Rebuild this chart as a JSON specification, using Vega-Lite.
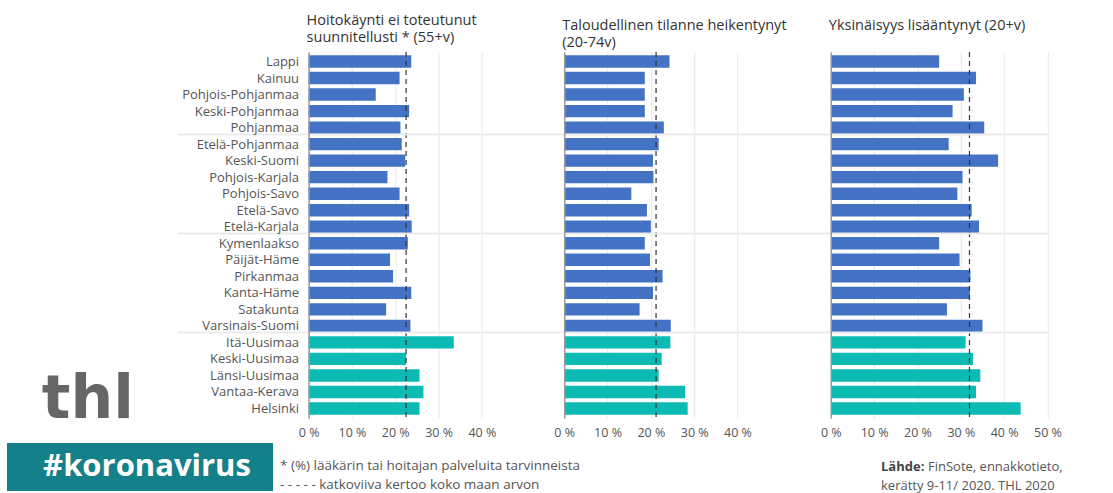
{
  "$schema": "https://vega.github.io/schema/vega-lite/v6.json",
  "padding": {"left": 7, "top": 13, "right": 0, "bottom": 0},
  "autosize": {"type": "pad"},
  "config": {
    "view": {"stroke": null},
    "font": "Open Sans",
    "title": {"anchor": "start", "frame": "group", "fontSize": 14.5, "fontWeight": "normal", "color": "#333333", "lineHeight": 16.5, "offset": 1, "dx": -2, "font": "Open Sans"}
  },
  "datasets": {
    "regions": [
      {"alue": "Lappi", "ryhma": "muu", "hoito": 23.7, "talous": 24.3, "yksin": 25.0},
      {"alue": "Kainuu", "ryhma": "muu", "hoito": 21.0, "talous": 18.6, "yksin": 33.5},
      {"alue": "Pohjois-Pohjanmaa", "ryhma": "muu", "hoito": 15.5, "talous": 18.6, "yksin": 30.7},
      {"alue": "Keski-Pohjanmaa", "ryhma": "muu", "hoito": 23.2, "talous": 18.6, "yksin": 28.1},
      {"alue": "Pohjanmaa", "ryhma": "muu", "hoito": 21.2, "talous": 23.0, "yksin": 35.4},
      {"alue": "Etelä-Pohjanmaa", "ryhma": "muu", "hoito": 21.5, "talous": 21.8, "yksin": 27.2},
      {"alue": "Keski-Suomi", "ryhma": "muu", "hoito": 22.3, "talous": 20.5, "yksin": 38.6},
      {"alue": "Pohjois-Karjala", "ryhma": "muu", "hoito": 18.2, "talous": 20.6, "yksin": 30.4},
      {"alue": "Pohjois-Savo", "ryhma": "muu", "hoito": 21.0, "talous": 15.5, "yksin": 29.2},
      {"alue": "Etelä-Savo", "ryhma": "muu", "hoito": 23.2, "talous": 19.1, "yksin": 32.5},
      {"alue": "Etelä-Karjala", "ryhma": "muu", "hoito": 23.8, "talous": 20.0, "yksin": 34.2},
      {"alue": "Kymenlaakso", "ryhma": "muu", "hoito": 22.9, "talous": 18.6, "yksin": 25.0},
      {"alue": "Päijät-Häme", "ryhma": "muu", "hoito": 18.8, "talous": 19.8, "yksin": 29.7},
      {"alue": "Pirkanmaa", "ryhma": "muu", "hoito": 19.5, "talous": 22.7, "yksin": 32.2},
      {"alue": "Kanta-Häme", "ryhma": "muu", "hoito": 23.7, "talous": 20.5, "yksin": 32.1},
      {"alue": "Satakunta", "ryhma": "muu", "hoito": 17.9, "talous": 17.4, "yksin": 26.8},
      {"alue": "Varsinais-Suomi", "ryhma": "muu", "hoito": 23.5, "talous": 24.6, "yksin": 35.0},
      {"alue": "Itä-Uusimaa", "ryhma": "uusimaa", "hoito": 33.5, "talous": 24.5, "yksin": 31.1},
      {"alue": "Keski-Uusimaa", "ryhma": "uusimaa", "hoito": 22.5, "talous": 22.5, "yksin": 32.8},
      {"alue": "Länsi-Uusimaa", "ryhma": "uusimaa", "hoito": 25.6, "talous": 21.8, "yksin": 34.5},
      {"alue": "Vantaa-Kerava", "ryhma": "uusimaa", "hoito": 26.5, "talous": 27.9, "yksin": 33.5},
      {"alue": "Helsinki", "ryhma": "uusimaa", "hoito": 25.6, "talous": 28.5, "yksin": 43.8}
    ]
  },
  "spacing": 4,
  "vconcat": [
    {
      "spacing": 81.6,
      "bounds": "flush",
      "hconcat": [
        {
          "width": 219.7, "height": 366,
          "data": {"values": [{"t": "thl"}]},
          "mark": {"type": "text", "font": "DejaVu Sans", "fontWeight": "bold", "fontSize": 60, "color": "#666666", "baseline": "alphabetic", "dx": -29},
          "encoding": {
            "text": {"field": "t"},
            "y": {"datum": 0, "type": "quantitative", "scale": {"domain": [0, 1]}, "axis": null}
          }
        },
        {
          "width": 173.3, "height": 366,
          "title": {"text": ["Hoitokäynti ei toteutunut", "suunnitellusti * (55+v)"]},
          "layer": [
            {
              "data": {"name": "regions"},
              "mark": {"type": "bar"},
              "encoding": {
                "y": {"field": "alue", "type": "nominal", "sort": null, "scale": {"paddingInner": 0.25, "paddingOuter": 0.2},
                  "axis": {"title": null, "zindex": 1, "labelFontSize": 13, "labelColor": "#555555", "labelFont": "Open Sans", "labelPadding": -121, "tickSize": 131, "tickBand": "extent", "tickColor": "#ebebeb", "tickWidth": 2,
                    "tickOpacity": {"condition": {"test": "indexof(['Pohjanmaa','Etelä-Karjala','Varsinais-Suomi'], datum.value) >= 0", "value": 1}, "value": 0},
                    "grid": true, "gridColor": "#ebebeb", "gridWidth": 2,
                    "gridOpacity": {"condition": {"test": "indexof(['Pohjanmaa','Etelä-Karjala','Varsinais-Suomi'], datum.value) >= 0", "value": 1}, "value": 0},
                    "domainColor": "#9a9a9a", "domainWidth": 1.5}},
                "x": {"field": "hoito", "type": "quantitative", "scale": {"domain": [0, 40], "nice": false},
                  "axis": {"title": null, "values": [0, 10, 20, 30, 40], "labelExpr": "datum.value + ' %'", "grid": true, "gridColor": "#e8e8e8", "domain": false, "ticks": false, "labelPadding": 8, "labelFlush": false, "labelFontSize": 12.5, "labelColor": "#555555"}},
                "color": {"field": "ryhma", "type": "nominal", "scale": {"domain": ["muu", "uusimaa"], "range": ["#4472c4", "#0bbbb3"]}, "legend": null}
              }
            },
            {
              "data": {"values": [{"ka": 22.5}]},
              "mark": {"type": "rule", "color": "#333333", "strokeDash": [5, 4], "strokeWidth": 1.2},
              "encoding": {"x": {"field": "ka", "type": "quantitative"}}
            }
          ]
        },
        {
          "width": 185, "height": 366,
          "title": {"text": ["Taloudellinen tilanne heikentynyt", "(20-74v)"]},
          "layer": [
            {
              "data": {"name": "regions"},
              "mark": {"type": "bar"},
              "encoding": {
                "y": {"field": "alue", "type": "nominal", "sort": null, "scale": {"paddingInner": 0.25, "paddingOuter": 0.2},
                  "axis": {"title": null, "zindex": 1, "labels": false, "tickSize": 81.6, "tickBand": "extent", "tickColor": "#ebebeb", "tickWidth": 2,
                    "tickOpacity": {"condition": {"test": "indexof(['Pohjanmaa','Etelä-Karjala','Varsinais-Suomi'], datum.value) >= 0", "value": 1}, "value": 0},
                    "grid": true, "gridColor": "#ebebeb", "gridWidth": 2,
                    "gridOpacity": {"condition": {"test": "indexof(['Pohjanmaa','Etelä-Karjala','Varsinais-Suomi'], datum.value) >= 0", "value": 1}, "value": 0},
                    "domainColor": "#9a9a9a", "domainWidth": 1.5}},
                "x": {"field": "talous", "type": "quantitative", "scale": {"domain": [0, 42.7], "nice": false},
                  "axis": {"title": null, "values": [0, 10, 20, 30, 40], "labelExpr": "datum.value + ' %'", "grid": true, "gridColor": "#e8e8e8", "domain": false, "ticks": false, "labelPadding": 8, "labelFlush": false, "labelFontSize": 12.5, "labelColor": "#555555"}},
                "color": {"field": "ryhma", "type": "nominal", "scale": {"domain": ["muu", "uusimaa"], "range": ["#4472c4", "#0bbbb3"]}, "legend": null}
              }
            },
            {
              "data": {"values": [{"ka": 21.2}]},
              "mark": {"type": "rule", "color": "#333333", "strokeDash": [5, 4], "strokeWidth": 1.2},
              "encoding": {"x": {"field": "ka", "type": "quantitative"}}
            }
          ]
        },
        {
          "width": 216.7, "height": 366,
          "title": {"text": ["Yksinäisyys lisääntynyt (20+v)", " "]},
          "layer": [
            {
              "data": {"name": "regions"},
              "mark": {"type": "bar"},
              "encoding": {
                "y": {"field": "alue", "type": "nominal", "sort": null, "scale": {"paddingInner": 0.25, "paddingOuter": 0.2},
                  "axis": {"title": null, "zindex": 1, "labels": false, "tickSize": 81.6, "tickBand": "extent", "tickColor": "#ebebeb", "tickWidth": 2,
                    "tickOpacity": {"condition": {"test": "indexof(['Pohjanmaa','Etelä-Karjala','Varsinais-Suomi'], datum.value) >= 0", "value": 1}, "value": 0},
                    "grid": true, "gridColor": "#ebebeb", "gridWidth": 2,
                    "gridOpacity": {"condition": {"test": "indexof(['Pohjanmaa','Etelä-Karjala','Varsinais-Suomi'], datum.value) >= 0", "value": 1}, "value": 0},
                    "domainColor": "#9a9a9a", "domainWidth": 1.5}},
                "x": {"field": "yksin", "type": "quantitative", "scale": {"domain": [0, 50], "nice": false},
                  "axis": {"title": null, "values": [0, 10, 20, 30, 40, 50], "labelExpr": "datum.value + ' %'", "grid": true, "gridColor": "#e8e8e8", "domain": false, "ticks": false, "labelPadding": 8, "labelFlush": false, "labelFontSize": 12.5, "labelColor": "#555555"}},
                "color": {"field": "ryhma", "type": "nominal", "scale": {"domain": ["muu", "uusimaa"], "range": ["#4472c4", "#0bbbb3"]}, "legend": null}
              }
            },
            {
              "data": {"values": [{"ka": 32.0}]},
              "mark": {"type": "rule", "color": "#333333", "strokeDash": [5, 4], "strokeWidth": 1.2},
              "encoding": {"x": {"field": "ka", "type": "quantitative"}}
            }
          ]
        }
      ]
    },
    {
      "spacing": 7,
      "hconcat": [
        {
          "width": 266, "height": 48,
          "view": {"fill": "#13808a", "stroke": null},
          "data": {"values": [{"t": "#koronavirus"}]},
          "mark": {"type": "text", "color": "#ffffff", "fontSize": 31, "fontWeight": "bold", "font": "Open Sans", "dx": 7},
          "encoding": {"text": {"field": "t"}}
        },
        {
          "width": 594, "height": 22.5,
          "data": {"values": [{"t": "* (%) lääkärin tai hoitajan palveluita tarvinneista\n- - - - - katkoviiva kertoo koko maan arvon"}]},
          "mark": {"type": "text", "align": "left", "baseline": "middle", "lineBreak": "\n", "fontSize": 13.5, "color": "#555555", "lineHeight": 19.7},
          "encoding": {
            "text": {"field": "t"},
            "x": {"datum": 0, "type": "quantitative", "scale": {"domain": [0, 1]}, "axis": null},
            "y": {"datum": 0, "type": "quantitative", "scale": {"domain": [0, 1]}, "axis": null}
          }
        },
        {
          "width": 200, "height": 23.5,
          "data": {"values": [{"a": "Lähde:", "b": "FinSote, ennakkotieto,", "c": " \nkerätty 9-11/ 2020. THL 2020"}]},
          "encoding": {
            "x": {"datum": 0, "type": "quantitative", "scale": {"domain": [0, 1]}, "axis": null},
            "y": {"datum": 0, "type": "quantitative", "scale": {"domain": [0, 1]}, "axis": null}
          },
          "layer": [
            {"mark": {"type": "text", "align": "left", "baseline": "middle", "fontSize": 13, "fontWeight": "bold", "color": "#444444"}, "encoding": {"text": {"field": "a"}}},
            {"mark": {"type": "text", "align": "left", "baseline": "middle", "fontSize": 13, "color": "#555555", "dx": 47}, "encoding": {"text": {"field": "b"}}},
            {"mark": {"type": "text", "align": "left", "baseline": "middle", "lineBreak": "\n", "fontSize": 13, "color": "#555555", "lineHeight": 19.4}, "encoding": {"text": {"field": "c"}}}
          ]
        }
      ]
    }
  ]
}
